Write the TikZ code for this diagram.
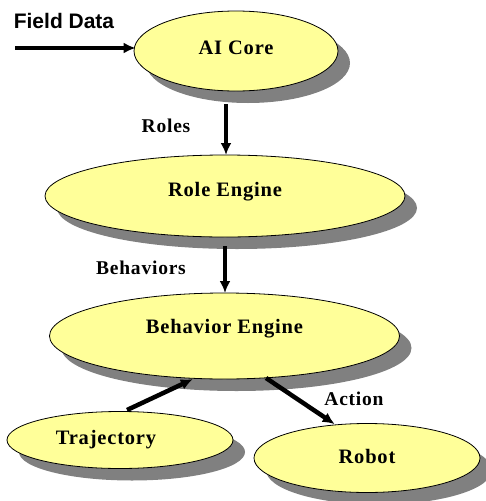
\documentclass[tikz,border=0pt]{standalone}
\usepackage{fontspec}
\setmainfont{Liberation Serif}
\newfontfamily\fdserif[LetterSpace=4]{Liberation Serif}
\newfontfamily\fdsans{Liberation Sans}
\usetikzlibrary{shapes.geometric,shadows,arrows.meta}
\definecolor{ellfill}{HTML}{FFFF99}
\definecolor{shadowgray}{HTML}{808080}
\tikzset{
  ell/.style={ellipse, draw=black, line width=0.8pt, fill=ellfill, inner sep=0pt,
    font=\fdserif\fontsize{20.5}{24}\selectfont\bfseries,
    drop shadow={shadow xshift=12pt, shadow yshift=-12pt, fill=shadowgray, opacity=1}},
  lbl/.style={font=\fdserif\fontsize{19.5}{23}\selectfont\bfseries, inner sep=0pt},
  conn/.style={line width=4.5pt, -{Latex[length=12pt,width=11pt]}, shorten >=-2pt}
}
\begin{document}
\begin{tikzpicture}[x=1pt,y=-1pt]
\useasboundingbox (0,0) rectangle (485,501);
\node[ell, minimum width=204pt, minimum height=80pt] (ai) at (236,51) {\raisebox{3pt}[\height][\depth]{AI Core}};
\node[ell, minimum width=360pt, minimum height=82pt] (role) at (225,196) {\raisebox{4pt}[\height][\depth]{Role Engine}};
\node[ell, minimum width=350pt, minimum height=86pt] (beh) at (224.5,336) {\raisebox{7pt}[\height][\depth]{Behavior Engine}};
\node[ell, minimum width=226pt, minimum height=57pt] (traj) at (120,440) {\hspace*{-28pt}Trajectory};
\node[ell, minimum width=226pt, minimum height=69pt] (robot) at (367,458) {\raisebox{2pt}[\height][\depth]{Robot}};

\node[font=\fdsans\fontsize{21}{25}\selectfont\bfseries, inner sep=0pt] (fd) at (64,21) {Field Data};
\node[lbl] (roles) at (166,126) {Roles};
\node[lbl] (behs) at (141,268) {Behaviors};
\node[lbl] (act) at (354,399) {Action};

\coordinate (fdstart) at (15,48);
\coordinate (aibot) at (226,104);
\coordinate (roletop) at (226,153);
\coordinate (rolebot) at (225,246);
\coordinate (behtop) at (225,291);
\coordinate (trajtop) at (127,410);
\coordinate (behbl) at (191,380);
\coordinate (behbr) at (266,378);
\coordinate (robtop) at (333,423);

\draw[conn] (fdstart) -- (fdstart -| ai.west);
\draw[conn] (aibot) -- (roletop);
\draw[conn] (rolebot) -- (behtop);
\draw[conn] (trajtop) -- (behbl);
\draw[conn] (behbr) -- (robtop);
\end{tikzpicture}
\end{document}
